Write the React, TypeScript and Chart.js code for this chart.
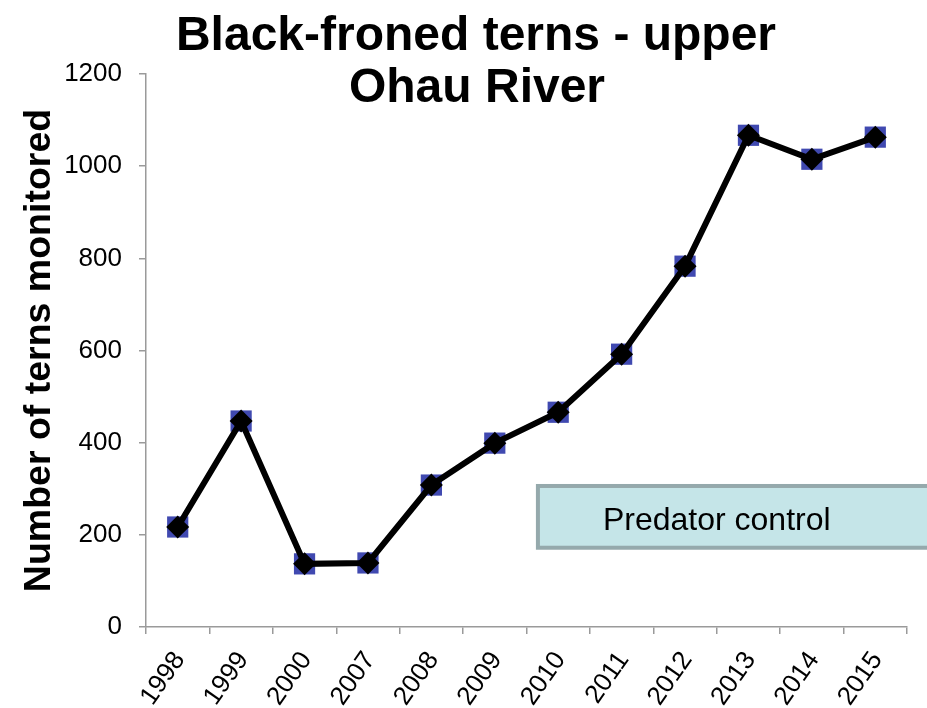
import { useEffect, useRef } from "react";
import { Chart, registerables } from "chart.js";

Chart.register(...registerables);

const years = ["1998", "1999", "2000", "2007", "2008", "2009", "2010", "2011", "2012", "2013", "2014", "2015"];
const terns = [217, 447, 137, 139, 308, 399, 466, 592, 783, 1067, 1015, 1063];
const yMin = 0;
const yMax = 1200;
const yStep = 200;
const titleLines = ["Black-froned terns - upper", "Ohau River"];
const yTitle = "Number of terns monitored";
const noteText = "Predator control";
const noteXRange = [5.68, 12.3];
const noteYRange = [172, 306];
const noteTextX = 8.5;

const FONT = "'Liberation Sans', Arial, Helvetica, sans-serif";

const overlay = {
  id: "overlay",
  afterDraw(chart: any) {
    const { ctx, chartArea } = chart;
    const x = chart.scales.x;
    const y = chart.scales.y;
    ctx.save();
    const l = x.getPixelForValue(noteXRange[0]);
    const r = x.getPixelForValue(noteXRange[1]);
    const t = y.getPixelForValue(noteYRange[1]);
    const b = y.getPixelForValue(noteYRange[0]);
    ctx.fillStyle = "#C5E5E8";
    ctx.fillRect(l, t, r - l, b - t);
    ctx.strokeStyle = "#95A9AC";
    ctx.lineWidth = 4;
    ctx.strokeRect(l, t, r - l, b - t);
    ctx.fillStyle = "#000";
    ctx.font = `32px ${FONT}`;
    ctx.textAlign = "center";
    ctx.textBaseline = "middle";
    ctx.fillText(noteText, x.getPixelForValue(noteTextX), (t + b) / 2 + 4);

    ctx.textBaseline = "alphabetic";
    ctx.font = `bold 48px ${FONT}`;
    ctx.fillText(titleLines[0], 476, 50);
    ctx.fillText(titleLines[1], 477, 102);

    ctx.translate(50, (chartArea.top + chartArea.bottom) / 2);
    ctx.rotate(-Math.PI / 2);
    ctx.font = `bold 37.5px ${FONT}`;
    ctx.fillText(yTitle, 0, 0);
    ctx.restore();
  },
};

export default function App() {
  const ref = useRef<HTMLCanvasElement>(null);
  useEffect(() => {
    document.body.style.margin = "0";
    const chart = new Chart(ref.current!, {
      type: "line",
      data: {
        labels: years,
        datasets: [
          {
            data: terns,
            borderColor: "#000",
            borderWidth: 6,
            tension: 0,
            pointStyle: "rectRot",
            pointRadius: 11.5,
            pointBackgroundColor: "#000",
            pointBorderWidth: 0,
            fill: false,
          },
          {
            data: terns,
            showLine: false,
            pointStyle: "rect",
            pointRadius: 15,
            pointBackgroundColor: "#4049B0",
            pointBorderWidth: 0,
          },
        ],
      },
      options: {
        responsive: false,
        animation: false,
        layout: { padding: { top: 74, right: 20, left: 0, bottom: 0 } },
        plugins: { legend: { display: false }, tooltip: { enabled: false }, title: { display: false } },
        scales: {
          x: {
            type: "category",
            offset: true,
            grid: {
              offset: true,
              drawOnChartArea: false,
              drawTicks: true,
              tickLength: 7,
              color: "#9a9a9a",
              lineWidth: 1.5,
            },
            border: { display: true, color: "#9a9a9a", width: 1.5 },
            ticks: {
              autoSkip: false,
              minRotation: 55,
              maxRotation: 55,
              color: "#000",
              padding: 12,
              labelOffset: 2,
              font: { family: FONT, size: 26 },
            },
            afterFit: (s: any) => {
              s.height = 81;
            },
          },
          y: {
            min: yMin,
            max: yMax,
            grid: {
              drawOnChartArea: false,
              drawTicks: true,
              tickLength: 7,
              color: "#9a9a9a",
              lineWidth: 1.5,
            },
            border: { display: true, color: "#9a9a9a", width: 1.5 },
            ticks: {
              stepSize: yStep,
              color: "#000",
              padding: 17,
              font: { family: FONT, size: 26 },
              callback: (v: any) => String(v),
            },
            afterFit: (s: any) => {
              s.width = 146;
            },
          },
        },
      },
      plugins: [overlay],
    });
    return () => chart.destroy();
  }, []);
  return <canvas ref={ref} width={927} height={708} style={{ display: "block" }} />;
}
